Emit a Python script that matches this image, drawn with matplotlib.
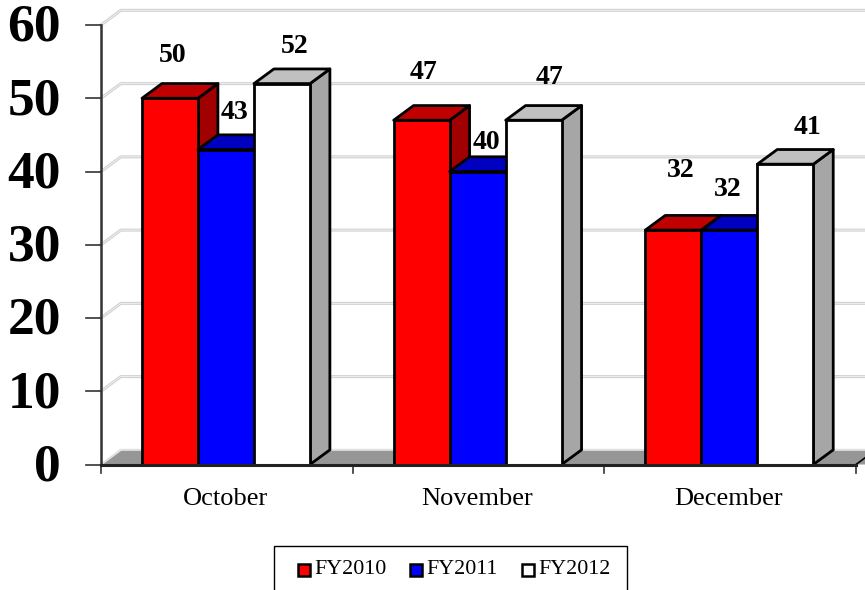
import matplotlib
matplotlib.use('Agg')
import matplotlib.pyplot as plt
from matplotlib.patches import Polygon, Rectangle

months = ['October', 'November', 'December']
series_names = ['FY2010', 'FY2011', 'FY2012']
fy2010 = [50, 47, 32]
fy2011 = [43, 40, 32]
fy2012 = [52, 47, 41]
y_ticks = [0, 10, 20, 30, 40, 50, 60]

# front, top, side
colors = [('#FF0000', '#C00000', '#A00000'),
          ('#0000FF', '#0000C0', '#0000A0'),
          ('#FFFFFF', '#C0C0C0', '#A6A6A6')]
# label nudges in px, the labels in the original are placed by hand
label_dx = [[3, 8, 13], [2, 9, 16], [7, -2, 22]]
label_dy = [[43, 37, 37], [48, 29, 43], [60, 41, 37]]

W, H = 865, 590
DX = 0.079   # depth of the 3d effect in x units
DY = 2.0     # depth in y units
BAR = 0.2225
START = 0.163

plt.rcParams['font.family'] = ['Liberation Serif']
fig = plt.figure(figsize=(W / 100, H / 100), dpi=100)
ax = fig.add_axes([101 / W, (H - 464.5) / H, 755 / W, 439.5 / H])
ax.set_xlim(0, 3)
ax.set_ylim(0, 60)
for s in ax.spines.values():
  s.set_visible(False)
ax.set_xticks([])
ax.set_yticks([])
ax.patch.set_alpha(0)

# back wall grid
for v in y_ticks[1:]:
  ax.plot([0, DX, 3.2], [v, v + DY, v + DY], color='#D2D2D2', lw=2.2, clip_on=False, zorder=1)
  ax.plot([0, DX, 3.2], [v, v + DY, v + DY], color='#F2F2F2', lw=0.6, clip_on=False, zorder=1)

# floor
ax.add_patch(Polygon([(0, 0), (DX, DY), (3.2, DY), (3.2, 0)], fc='#969696', ec='none', clip_on=False, zorder=1))
ax.plot([0, DX, 3.2], [0, DY, DY], color='#E0E0E0', lw=1.5, clip_on=False, zorder=1)
ax.plot([3, 3 + DX], [0, DY], color='black', lw=1.2, clip_on=False, zorder=2)
ax.add_patch(Polygon([(3, 0), (3.2, 0), (3.2, -1)], fc='white', ec='none', clip_on=False, zorder=2))

# bars
for i in range(len(months)):
  for j, values in enumerate([fy2010, fy2011, fy2012]):
    v = values[i]
    x0 = i + START + j * BAR
    x1 = x0 + BAR
    z = 3 + i + j * 0.1
    front, top, side = colors[j]
    kw = dict(ec='black', lw=2, joinstyle='round', zorder=z)
    ax.add_patch(Polygon([(x1, 0), (x1 + DX, DY), (x1 + DX, v + DY), (x1, v)], fc=side, **kw))
    ax.add_patch(Polygon([(x0, v), (x0 + DX, v + DY), (x1 + DX, v + DY), (x1, v)], fc=top, **kw))
    ax.add_patch(Rectangle((x0, 0), BAR, v, fc=front, **kw))
    ax.annotate(str(v), (x0 + BAR / 2, v), xytext=(label_dx[i][j], label_dy[i][j]),
                textcoords='offset pixels', ha='center', va='center',
                fontsize=20, fontweight='bold', zorder=10, annotation_clip=False)

# axes lines and ticks
ax.plot([0, 0], [0, 60], color='#333333', lw=1.8, clip_on=False, zorder=2)
ax.plot([0, 3], [0, 0], color='#222222', lw=2.2, clip_on=False, zorder=9)
for v in y_ticks:
  ax.plot([-0.06, 0], [v, v], color='#333333', lw=1.2, clip_on=False, zorder=2)
  ax.text(-0.159, v - 0.4, str(v), ha='right', va='center', fontsize=38.5, fontweight='bold')
for k in range(4):
  ax.plot([k, k], [0, -1.1], color='#333333', lw=1.2, clip_on=False, zorder=2)
for i, m in enumerate(months):
  ax.text(i + 0.495, -4.75, m, ha='center', va='center', fontsize=19)

# legend
fig.patches.append(Rectangle((273.5 / W, -0.01), 353 / W, (H - 545.5) / H + 0.01, transform=fig.transFigure,
                             fc='white', ec='black', lw=1))
for x_m, name, c in zip([298, 410, 522], series_names, colors):
  fig.patches.append(Rectangle((x_m / W, (H - 576) / H), 12 / W, 12 / H, transform=fig.transFigure,
                               fc=c[0], ec='black', lw=1.8))
  fig.text((x_m + 16) / W, (H - 570) / H, name, ha='left', va='center', fontsize=15.8)

fig.savefig('out.png', dpi=100)
